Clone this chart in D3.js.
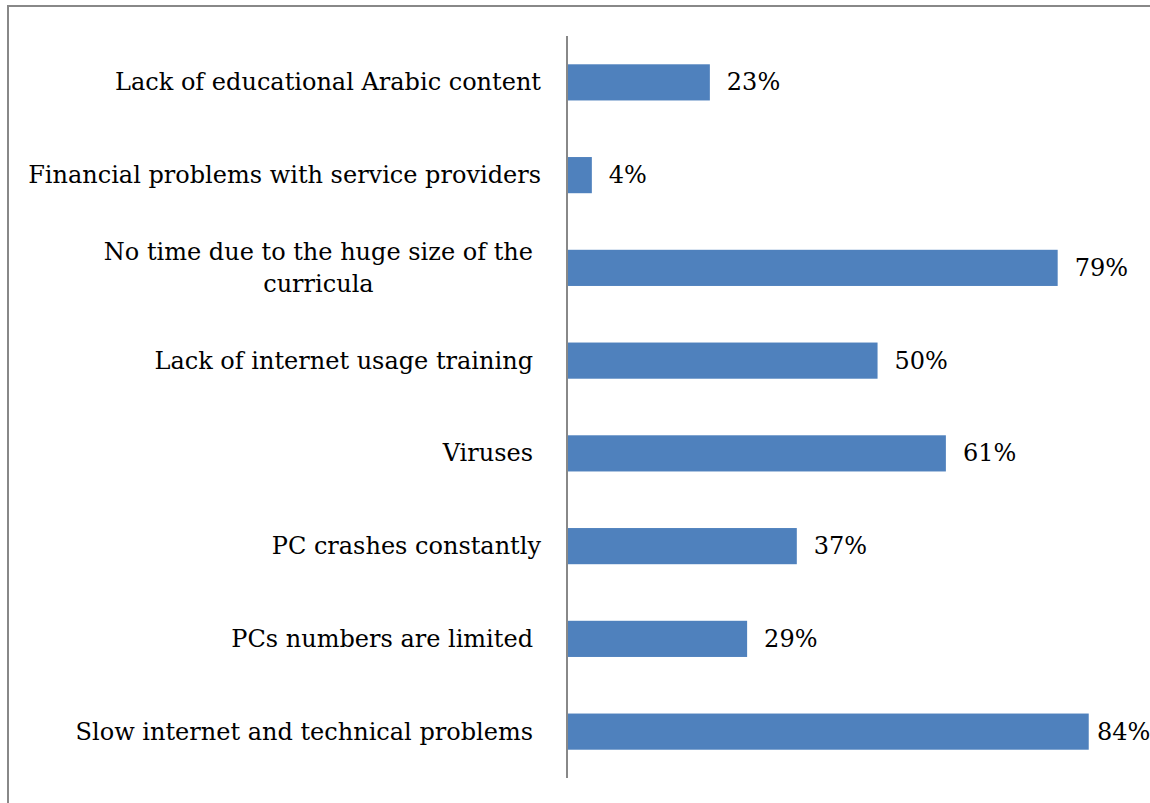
<!DOCTYPE html>
<html>
<head>
<meta charset="utf-8">
<script src="https://cdn.jsdelivr.net/npm/d3@7"></script>
<style>
  body { margin: 0; background: #fff; }
  text { font-family: "DejaVu Serif", serif; fill: #000; }
</style>
</head>
<body>
<div id="chart"></div>
<script>
const categories = [
  ["Lack of educational Arabic content"],
  ["Financial problems with service providers"],
  ["No time due to the huge size of the", "curricula"],
  ["Lack of internet usage training"],
  ["Viruses"],
  ["PC crashes constantly"],
  ["PCs numbers are limited"],
  ["Slow internet and technical problems"]
];
const values = [23, 4, 79, 50, 61, 37, 29, 84];
// labels that carry a trailing space in the original sit a bit further left
const trailingSpace = [false, false, true, true, true, false, true, true];

const width = 1150;
const height = 803;
const axisX = 567;

const svg = d3.select('#chart').append('svg')
  .attr('width', width)
  .attr('height', height);

// frame
svg.append('rect')
  .attr('x', 8).attr('y', 6)
  .attr('width', width + 10).attr('height', height + 10)
  .attr('fill', 'none')
  .attr('stroke', '#888')
  .attr('stroke-width', 2);

const idx = d3.range(values.length);

const y = d3.scaleBand()
  .domain(idx)
  .range([36, 778])
  .paddingInner(0.61)
  .paddingOuter(0.305);

const x = d3.scaleLinear()
  .domain([0, 90])
  .range([axisX, 1126]);

svg.append('g').selectAll()
  .data(idx)
  .join('rect')
    .attr('x', x(0))
    .attr('y', (i) => y(i))
    .attr('width', (i) => x(values[i]) - x(0))
    .attr('height', y.bandwidth())
    .attr('fill', '#4F81BD');

// axis line
svg.append('line')
  .attr('x1', axisX).attr('x2', axisX)
  .attr('y1', 36).attr('y2', 778)
  .attr('stroke', '#888')
  .attr('stroke-width', 2);

// category labels
const fs = 24;
const lab = svg.append('g').selectAll()
  .data(idx)
  .join('text')
    .attr('font-size', fs)
    .attr('dominant-baseline', 'central');

lab.each(function (i) {
  const t = d3.select(this);
  const lines = categories[i];
  const cy = y(i) + y.bandwidth() / 2;
  const right = trailingSpace[i] ? 533 : 541;
  if (lines.length === 1) {
    t.attr('text-anchor', 'end').attr('x', right).attr('y', cy).text(lines[0]);
  } else {
    t.attr('text-anchor', 'middle');
    const spans = lines.map((l, k) => t.append('tspan')
      .attr('x', 0)
      .attr('y', cy + (k - (lines.length - 1) / 2) * 32)
      .text(l));
    const w = d3.max(spans, (s) => s.node().getComputedTextLength());
    t.selectAll('tspan').attr('x', right - w / 2);
  }
});

// value labels
svg.append('g').selectAll()
  .data(idx)
  .join('text')
    .attr('font-size', fs)
    .attr('dominant-baseline', 'central')
    .attr('x', (i) => Math.min(x(values[i]) + 17, 1097))
    .attr('y', (i) => y(i) + y.bandwidth() / 2)
    .text((i) => d3.format('.0%')(values[i] / 100));
</script>
</body>
</html>
